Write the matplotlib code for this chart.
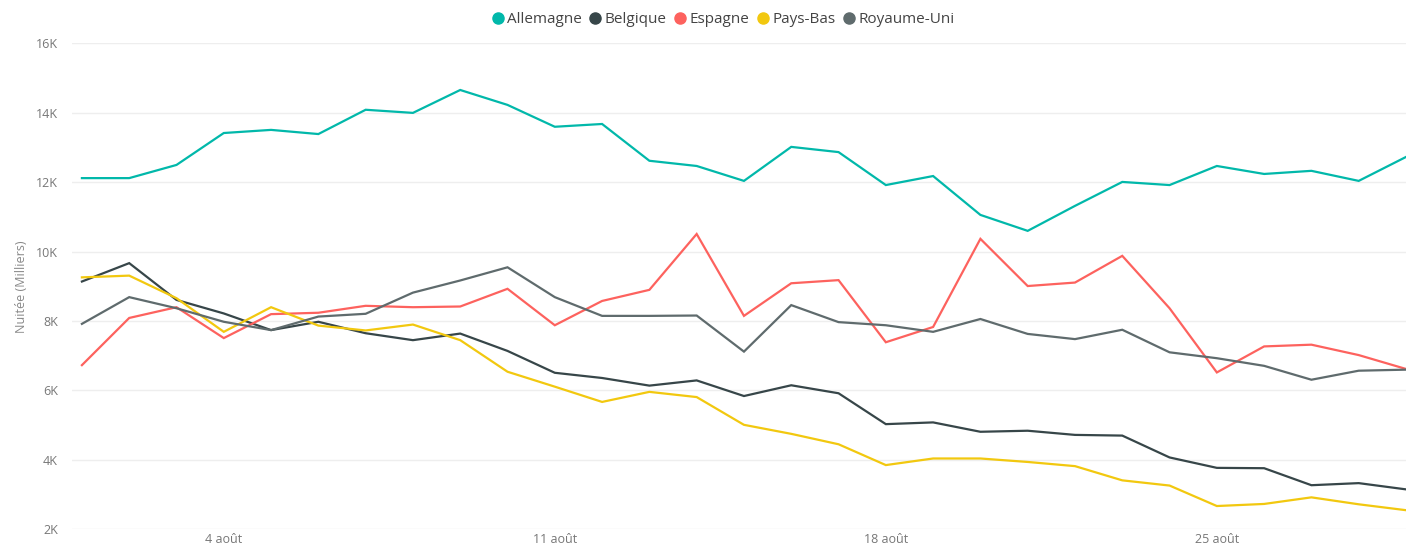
import matplotlib
matplotlib.use("Agg")
import matplotlib.pyplot as plt
import matplotlib.ticker as mtick
from matplotlib.lines import Line2D

# jours du mois d'août (1 -> 29)
days = [1, 2, 3, 4, 5, 6, 7, 8, 9, 10, 11, 12, 13, 14, 15,
        16, 17, 18, 19, 20, 21, 22, 23, 24, 25, 26, 27, 28, 29]

# nuitées en milliers
allemagne = [12.12, 12.12, 12.5, 13.42, 13.51, 13.39, 14.09, 14.0, 14.66, 14.23,
             13.6, 13.68, 12.62, 12.47, 12.04, 13.02, 12.87, 11.92, 12.18, 11.06,
             10.6, 11.32, 12.01, 11.92, 12.47, 12.24, 12.33, 12.04, 12.73]
belgique = [9.14, 9.67, 8.61, 8.22, 7.74, 7.98, 7.65, 7.45, 7.64, 7.14,
            6.51, 6.36, 6.14, 6.29, 5.84, 6.15, 5.92, 5.03, 5.08, 4.81,
            4.84, 4.72, 4.70, 4.07, 3.77, 3.76, 3.27, 3.33, 3.15]
espagne = [6.73, 8.09, 8.40, 7.51, 8.20, 8.24, 8.44, 8.40, 8.42, 8.93,
           7.88, 8.58, 8.90, 10.51, 8.15, 9.09, 9.18, 7.39, 7.83, 10.37,
           9.01, 9.11, 9.88, 8.37, 6.52, 7.27, 7.32, 7.02, 6.62]
pays_bas = [9.26, 9.31, 8.66, 7.69, 8.40, 7.87, 7.73, 7.90, 7.45, 6.54,
            6.11, 5.67, 5.96, 5.81, 5.01, 4.75, 4.45, 3.85, 4.04, 4.04,
            3.94, 3.82, 3.41, 3.26, 2.67, 2.73, 2.92, 2.72, 2.55]
royaume_uni = [7.92, 8.69, 8.37, 7.98, 7.74, 8.13, 8.21, 8.82, 9.17, 9.55,
               8.69, 8.15, 8.15, 8.16, 7.12, 8.46, 7.97, 7.88, 7.69, 8.06,
               7.63, 7.48, 7.75, 7.10, 6.93, 6.71, 6.31, 6.57, 6.60]

series_names = ['Allemagne', 'Belgique', 'Espagne', 'Pays-Bas', 'Royaume-Uni']
colors = ['#01B8AA', '#374649', '#FD625E', '#F2C80F', '#5F6B6D']

tick_days = [4, 11, 18, 25]
tick_labels = ['4 août', '11 août', '18 août', '25 août']

plt.rcParams['font.family'] = ['Open Sans', 'DejaVu Sans']

fig = plt.figure(figsize=(14.06, 5.47), dpi=100)
ax = fig.add_axes([0.0512, 0.0324, 0.9488, 0.8881])

all_series = [allemagne, belgique, espagne, pays_bas, royaume_uni]
for name, vals, c in zip(series_names, all_series, colors):
    ax.plot(days, vals, color=c, lw=1.6, label=name, solid_joinstyle='miter')

ax.set_ylim(2, 16)
ax.set_xlim(0.79, 29)
ax.set_yticks([2, 4, 6, 8, 10, 12, 14, 16])
ax.yaxis.set_major_formatter(mtick.FuncFormatter(lambda v, p: '%dK' % v))
ax.set_xticks(tick_days)
ax.set_xticklabels(tick_labels)

ax.grid(axis='y', color='#eeeeee', lw=1)
ax.set_axisbelow(True)
for s in ax.spines.values():
    s.set_visible(False)
ax.tick_params(length=0, colors='#777777', labelsize=9)
ax.tick_params(axis='y', pad=10)
ax.tick_params(axis='x', pad=3)

ax.set_ylabel('Nuitée (Milliers)', color='#888888', fontsize=9, labelpad=6)

handles = [Line2D([], [], marker='o', ls='', color=c, markersize=8) for c in colors]
fig.legend(handles, series_names, loc='upper center', bbox_to_anchor=(0.514, 1.003),
           ncol=5, frameon=False, fontsize=11, handletextpad=0.15, handlelength=0.9,
           columnspacing=0.45, labelcolor='#444444')

fig.savefig('out.png', dpi=100, facecolor='white')
